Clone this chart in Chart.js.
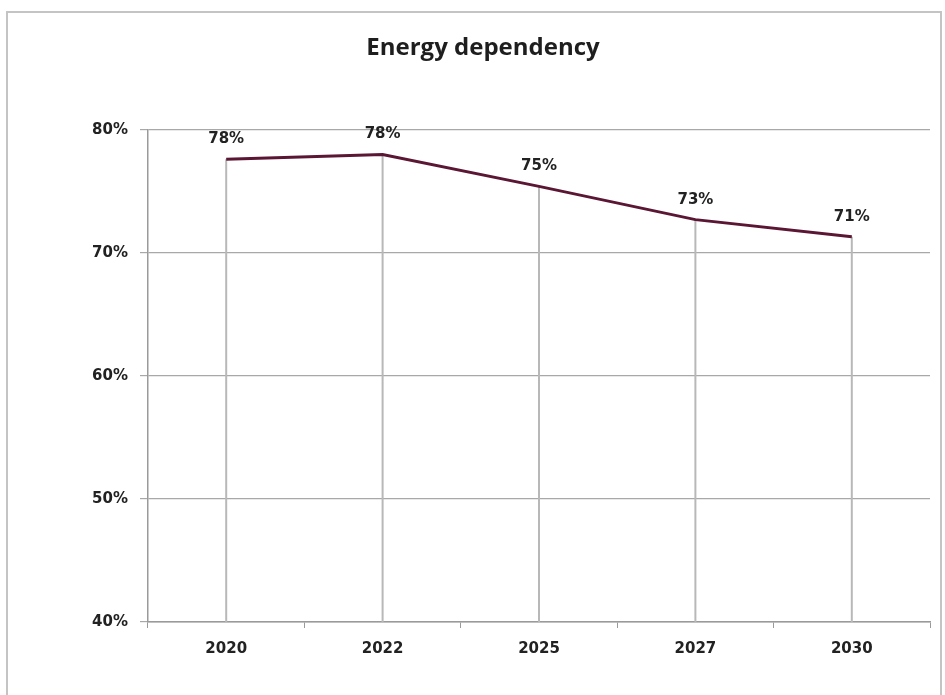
<!DOCTYPE html>
<html>
<head>
<meta charset="utf-8">
<script src="https://cdn.jsdelivr.net/npm/chart.js@4"></script>
<style>
  html, body { margin: 0; padding: 0; background: #fff; }
  #frame {
    position: absolute; left: 6px; top: 11px; width: 936px; height: 700px;
    border: 2px solid #c4c4c4; box-sizing: border-box;
  }
  #wrap { position: absolute; left: 0; top: 0; width: 945px; height: 695px; }
</style>
</head>
<body>
<div id="frame"></div>
<div id="wrap"><canvas id="energyChart"></canvas></div>
<script>
const years = ['2020', '2022', '2025', '2027', '2030'];
const dependency = [77.6, 78.0, 75.4, 72.7, 71.3];
const labelsShown = ['78%', '78%', '75%', '73%', '71%'];
const yTicks = [40, 50, 60, 70, 80];

const tickFont = { family: '"DejaVu Sans"', size: 15, weight: 'bold' };

// grey drop lines from each point down to the axis
const dropLines = {
  id: 'dropLines',
  beforeDatasetsDraw(chart) {
    const c = chart.ctx;
    const x = chart.scales.x, y = chart.scales.y;
    c.save();
    c.strokeStyle = '#b8b8b8';
    c.lineWidth = 2;
    dependency.forEach((v, i) => {
      const px = x.getPixelForValue(i);
      c.beginPath();
      c.moveTo(px, y.getPixelForValue(v));
      c.lineTo(px, y.bottom);
      c.stroke();
    });
    c.restore();
  }
};

// value labels above the line
const valueLabels = {
  id: 'valueLabels',
  afterDatasetsDraw(chart) {
    const c = chart.ctx;
    const meta = chart.getDatasetMeta(0);
    c.save();
    c.font = 'bold 15px "DejaVu Sans"';
    c.fillStyle = '#222';
    c.textAlign = 'center';
    c.textBaseline = 'middle';
    meta.data.forEach((pt, i) => {
      c.fillText(labelsShown[i], pt.x, pt.y - 20);
    });
    c.restore();
  }
};

new Chart(document.getElementById('energyChart'), {
  type: 'line',
  data: {
    labels: years,
    datasets: [{
      data: dependency,
      borderColor: '#5a1632',
      borderWidth: 3,
      pointRadius: 0,
      tension: 0
    }]
  },
  options: {
    responsive: true,
    maintainAspectRatio: false,
    animation: false,
    layout: { padding: { left: 36, right: 15, top: 0, bottom: 0 } },
    plugins: {
      legend: { display: false },
      tooltip: { enabled: false },
      title: {
        display: true,
        text: 'Energy dependency',
        color: '#1e1e1e',
        font: { family: '"Open Sans"', size: 24, weight: 'bold', lineHeight: 1.2 },
        padding: { top: 34, bottom: 67 }
      }
    },
    scales: {
      x: {
        offset: true,
        grid: {
          offset: true,
          drawOnChartArea: false,
          drawTicks: true,
          tickLength: 6,
          color: '#9a9a9a'
        },
        border: { color: '#9a9a9a', width: 1.5 },
        ticks: {
          color: '#222',
          padding: 12,
          font: tickFont
        },
        afterFit(s) { s.height = 73; }
      },
      y: {
        min: 40,
        max: 80,
        afterBuildTicks(s) { s.ticks = yTicks.map(v => ({ value: v })); },
        grid: { color: '#a8a8a8', lineWidth: 1.2, tickLength: 8 },
        border: { color: '#9a9a9a', width: 1.5 },
        ticks: {
          color: '#222',
          padding: 12,
          font: tickFont,
          callback: v => v + '%'
        },
        afterFit(s) { s.width = 112; }
      }
    }
  },
  plugins: [dropLines, valueLabels]
});
</script>
</body>
</html>
